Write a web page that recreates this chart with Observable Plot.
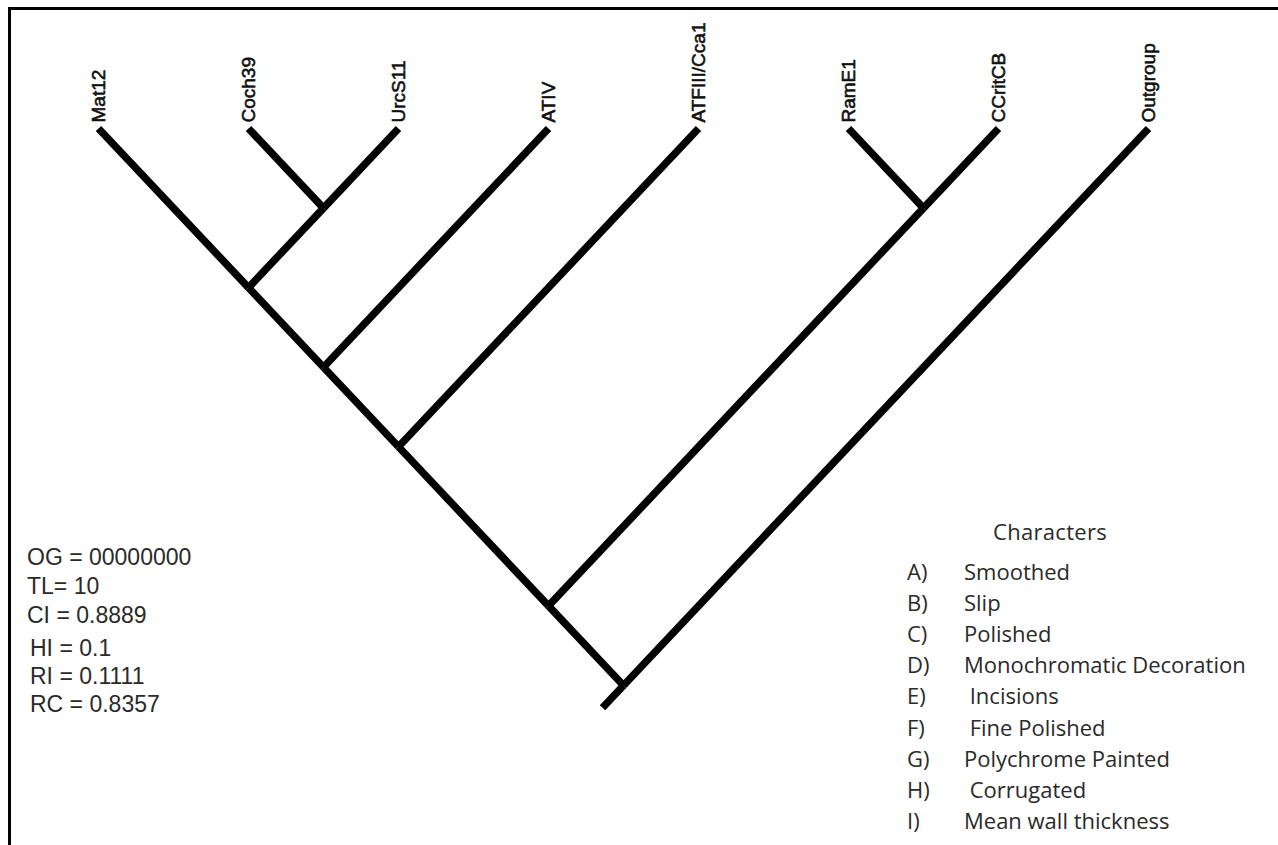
<!DOCTYPE html>
<html>
<head>
<meta charset="utf-8">
<script src="https://cdn.jsdelivr.net/npm/d3@7"></script>
<script src="https://cdn.jsdelivr.net/npm/@observablehq/plot@0.6"></script>
<style>
  html, body { margin: 0; padding: 0; background: #fff; }
  #wrap { position: relative; width: 1278px; height: 845px; overflow: hidden; background: #fff; }
  #wrap svg { position: absolute; left: 0; top: 0; background: transparent; }
  #frame { position: absolute; left: 8px; top: 7px; width: 1290px; height: 860px;
           border-top: 3px solid #000; border-left: 3px solid #000; pointer-events: none; }
</style>
</head>
<body>
<div id="wrap"></div>
<script>
// ---- data ----
const tipNames = ["Mat12", "Coch39", "UrcS11", "ATIV", "ATFIII/Cca1", "RamE1", "CCritCB", "Outgroup"];
// topology, tips listed left to right
const topology = [[[[["Mat12", ["Coch39", "UrcS11"]], "ATIV"], "ATFIII/Cca1"], ["RamE1", "CCritCB"]], "Outgroup"];
const statLines = ["OG = 00000000", "TL= 10", "CI = 0.8889", "HI = 0.1", "RI = 0.1111", "RC = 0.8357"];
const charTitle = "Characters";
const charCodes = ["A)", "B)", "C)", "D)", "E)", "F)", "G)", "H)", "I)"];
const charNames = ["Smoothed", "Slip", "Polished", "Monochromatic Decoration", " Incisions",
                   " Fine Polished", "Polychrome Painted", " Corrugated", "Mean wall thickness"];

// ---- slanted cladogram layout ----
const root = d3.hierarchy(topology, d => Array.isArray(d) ? d : null);
root.eachAfter(n => {
  if (!n.children) { n.lo = n.hi = tipNames.indexOf(n.data); }
  else { n.lo = d3.min(n.children, c => c.lo); n.hi = d3.max(n.children, c => c.hi); }
  n.px = (n.lo + n.hi) / 2;
  n.py = (n.hi - n.lo) / 2;
});
const edges = root.descendants().filter(n => n.parent)
  .map(n => ({x1: n.px, y1: n.py, x2: n.parent.px, y2: n.parent.py}));
const stem = 0.14; // root stem continues the outgroup branch
edges.push({x1: root.px, y1: root.py, x2: root.px - stem, y2: root.py + stem});
const tips = root.leaves().map(n => ({name: n.data, x: n.px, y: n.py}));

const chart = Plot.plot({
  width: 1278, height: 845,
  marginLeft: 98, marginRight: 130, marginTop: 128, marginBottom: 160,
  x: {domain: [0, 7], axis: null},
  y: {domain: [0, 3.5], axis: null, reverse: true},
  marks: [
    Plot.link(edges, {x1: "x1", y1: "y1", x2: "x2", y2: "y2", stroke: "#000",
                      strokeWidth: 7.5, strokeLinecap: "butt", curve: "linear"}),
    Plot.text(tips, {x: "x", y: "y", text: "name", rotate: -90, textAnchor: "start",
                     dy: -6, fontSize: 19, fontFamily: "Liberation Sans, Arial, sans-serif",
                     fill: "#111", stroke: "#111", strokeWidth: 0.6})
  ]
});
const wrap = document.getElementById("wrap");
wrap.appendChild(chart);

// ---- text blocks: statistics and character legend ----
const ov = d3.select(wrap).append("svg").attr("width", 1278).attr("height", 845);
const statX = [27, 27, 27, 30, 30, 30];
const statY = [565, 594, 623, 656, 684, 712];
ov.append("g").attr("font-family", "Liberation Sans, Arial, sans-serif").attr("font-size", 23).attr("fill", "#2a2a2a")
  .selectAll("text").data(statLines).join("text")
  .attr("x", (d, i) => statX[i]).attr("y", (d, i) => statY[i]).text(d => d);

const lg = ov.append("g").attr("font-family", "Open Sans, sans-serif").attr("font-size", 22).attr("fill", "#2a2a2a")
  .style("white-space", "pre");
lg.append("text").attr("x", 1050).attr("y", 540).attr("text-anchor", "middle")
  .attr("letter-spacing", 0.3).text(charTitle);
lg.selectAll("text.code").data(charCodes).join("text").attr("class", "code")
  .attr("x", 907).attr("y", (d, i) => 580 + i * 31.1).text(d => d);
lg.selectAll("text.name").data(charNames).join("text").attr("class", "name")
  .attr("x", 964).attr("y", (d, i) => 580 + i * 31.1).attr("xml:space", "preserve").text(d => d);

const frame = document.createElement("div");
frame.id = "frame";
wrap.appendChild(frame);
</script>
</body>
</html>
